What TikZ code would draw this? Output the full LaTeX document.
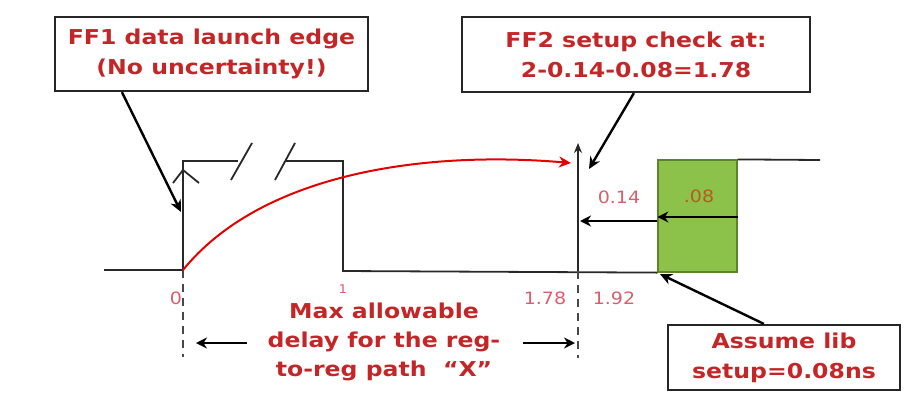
\documentclass[tikz,border=0pt]{standalone}
\usepackage{fontspec}
\setmainfont{DejaVu Sans}
\newfontfamily\wfont{DejaVu Sans}[FakeStretch=1.15]
\newfontfamily\lfont{DejaVu Sans}[FakeStretch=1.12]
\usetikzlibrary{arrows.meta,calc}
\definecolor{txtred}{RGB}{196,38,40}
\definecolor{lblred}{RGB}{215,95,110}
\definecolor{lblorg}{RGB}{185,90,30}
\definecolor{sgreen}{RGB}{140,194,74}
\definecolor{sgreenb}{RGB}{95,130,45}
\definecolor{wave}{RGB}{40,40,40}
\begin{document}
\begin{tikzpicture}[x=1pt,y=-1pt,
  callbox/.style={draw=black!85, line width=2.2pt, fill=white, align=center, text=txtred,
    font=\wfont\bfseries\fontsize{20.5}{30}\selectfont, inner sep=0pt},
  wavel/.style={draw=wave, line width=1.8pt},
  callarrow/.style={draw=black, line width=2.4pt, -{Stealth[length=12pt,width=11pt]}},
  dimarrow/.style={draw=black, line width=2.4pt, -{Stealth[length=11pt,width=11pt]}},
  guide/.style={draw=wave!85, line width=2pt, dash pattern=on 8pt off 6pt},
  ticklbl/.style={text=lblred, font=\lfont\fontsize{17}{20}\selectfont, inner sep=0pt},
  bigtxt/.style={text=txtred, align=center, font=\wfont\bfseries\fontsize{20.5}{29}\selectfont, inner sep=0pt},
]
\useasboundingbox (0,0) rectangle (921,400);

% coordinates of the waveform
\coordinate (w0) at (104,270);
\coordinate (w1) at (183,270);
\coordinate (w2) at (183,161);
\coordinate (w3) at (238,161);
\coordinate (w4) at (285,161);
\coordinate (w5) at (343,161);
\coordinate (w6) at (343,271);
\coordinate (hi) at (820,160);
\coordinate (ckb) at (578,271);
\coordinate (ckt) at (578,143);

% green setup window
\node[draw=sgreenb, line width=1.2pt, fill=sgreen, minimum width=79pt, minimum height=112pt, inner sep=0pt] (sb) at (697.5,216) {};
\node[text=lblorg, font=\lfont\fontsize{17}{20}\selectfont, inner sep=0pt] (l08) at (699,196) {.08};

% waveform
\draw[wavel] (w0) -- (w1) -- (w2) -- (w3);
\draw[wavel] (w4) -- (w5) -- (w6) -- (sb.south west);
\draw[wavel] (sb.north east) -- (hi);
\draw[wavel] (231,180) -- (252,143);
\draw[wavel] (275,180) -- (295,143);
\draw[wavel] (173,183) -- (183,170) -- (199,183);

% capture clock edge
\draw[wavel, -{Stealth[length=10pt,width=8pt]}] (ckb) -- (ckt);

% guides
\draw[guide] (w1) -- ++(0,87) coordinate (g0);
\draw[guide] (ckb) -- ++(0,87) coordinate (g1);

% red data curve
\draw[red!90!black, line width=2pt, -{Stealth[length=12pt,width=11pt]}] (w1) .. controls (260,175) and (420,150) .. (571,163);

% 0.14 and .08 arrows
\coordinate (a1) at (sb.east |- 0,217);
\coordinate (a2) at (sb.west |- 0,217);
\coordinate (a3) at (sb.west |- 0,221);
\coordinate (a4) at (580,221);
\draw[dimarrow] (a1) -- (a2);
\draw[dimarrow] (a3) -- (a4);
\node[ticklbl] (l14) at (619,197) {0.14};

% tick labels
\node[ticklbl] (l0) at (176,298) {0};
\node[ticklbl, font=\lfont\fontsize{12}{13}\selectfont] (l1) at (343,289) {1};
\node[ticklbl] (l178) at (545,298) {1.78};
\node[ticklbl] (l192) at (614,298) {1.92};

% bottom text and arrows
\node[bigtxt] (mx) at (384,342) {Max allowable\\delay for the reg-\\to-reg path \ “X”};
\coordinate (la) at (247,343);
\coordinate (lb) at (196,343);
\coordinate (ra) at (523,343);
\coordinate (rb) at (575,343);
\draw[dimarrow] (la) -- (lb);
\draw[dimarrow] (ra) -- (rb);

% callout boxes
\node[callbox, minimum width=313pt, minimum height=74pt] (b1) at (211.5,54) {FF1 data launch edge\\(No uncertainty!)};
\node[callbox, minimum width=348pt, minimum height=75pt] (b2) at (636,54.5) {FF2 setup check at:\\2-0.14-0.08=1.78};
\node[callbox, minimum width=232pt, minimum height=65pt] (b3) at (784,357.5) {Assume lib\\setup=0.08ns};

\coordinate (e1) at (181,212);
\coordinate (e2) at (589,169);
\coordinate (e3) at (660,274);
\path (b1.south west) ++(68,0) coordinate (s1);
\draw[callarrow] (s1) -- (e1);
\path (b2.south west) ++(173,0) coordinate (s2);
\draw[callarrow] (s2) -- (e2);
\path (b3.north west) ++(97,0) coordinate (s3);
\draw[callarrow] (s3) -- (e3);
\end{tikzpicture}
\end{document}
